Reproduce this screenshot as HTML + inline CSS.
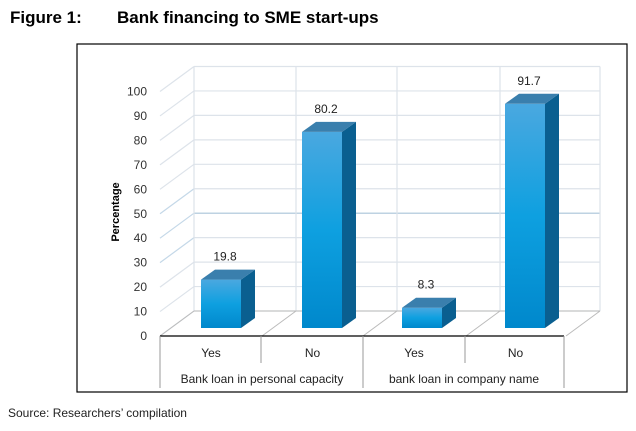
<!DOCTYPE html>
<html><head><meta charset="utf-8"><style>
body{margin:0;background:#fff;width:636px;height:426px;overflow:hidden;font-family:"Liberation Sans",sans-serif}
svg text{font-family:"Liberation Sans",sans-serif}
</style></head><body>
<svg width="636" height="426">
<text x="10" y="23" font-size="17" font-weight="bold">Figure 1:</text>
<text x="117" y="23" font-size="17" font-weight="bold">Bank financing to SME start-ups</text>
<rect x="77" y="44" width="550" height="348" fill="none" stroke="#000" stroke-width="1.2"/>
<g id="grid"></g>
<g id="bars"></g>
<g id="cats"></g>
<text transform="translate(119,212) rotate(-90)" text-anchor="middle" font-size="11" font-weight="bold">Percentage</text>
<text x="8" y="417" font-size="12" fill="#222">Source: Researchers’ compilation</text>
</svg>
<script>
const categories=["Yes","No","Yes","No"];
const groups=["Bank loan in personal capacity","bank loan in company name"];
const values=[19.8,80.2,8.3,91.7];
const ticks=[0,10,20,30,40,50,60,70,80,90,100];
const NS="http://www.w3.org/2000/svg";
function mk(t,a,p){const e=document.createElementNS(NS,t);for(const k in a)e.setAttribute(k,a[k]);p.appendChild(e);return e;}
const U=2.445, frontBase=328, backBase=311, labBase=336;
const yB=v=>backBase-v*U, yF=v=>frontBase-v*U, yL=v=>labBase-v*U;
const g=document.getElementById('grid');
ticks.forEach(t=>{
 let l=mk('line',{x1:194,x2:600,y1:yB(t),y2:yB(t),stroke:t==40?'#a9c4d8':'#dde3ea','stroke-width':1.2},g);
 
 
 let d=mk('line',{x1:160,y1:yB(t)+25,x2:194,y2:yB(t),stroke:(t>=30&&t<=50)?'#c4d8e8':'#dde3ea','stroke-width':1.2},g);
 
 
 let tx=mk('text',{x:147,y:yL(t)+4,'text-anchor':'end','font-size':12,fill:'#333'},g);
 tx.textContent=t;
 
 
});
[194,296,397,500,600].forEach((x,i)=>{
 let l=mk('line',{x1:x,x2:x,y1:yB(100),y2:backBase,stroke:'#dde3ea','stroke-width':1.2},g);
 
 
 let d=mk('line',{x1:x-34,y1:336,x2:x,y2:backBase,stroke:'#bbb','stroke-width':1},g);
 
 
});
const fl=mk('line',{x1:194,y1:backBase,x2:600,y2:backBase,stroke:'#bbb'},g);


const defs=mk('defs',{},document.querySelector('svg'));
defs.innerHTML='<linearGradient id="fg" x1="0" y1="0" x2="0" y2="1"><stop offset="0" stop-color="#4aa8e0"/><stop offset="0.5" stop-color="#0ea0e0"/><stop offset="1" stop-color="#0088cc"/></linearGradient>';
const b=document.getElementById('bars');
const x0=[201,302,402,505], W=40, D=14, H=10;
values.forEach((v,i)=>{
 const x=x0[i], top=yF(v);
 const gg=mk('g',{},b);
 
 
 mk('rect',{x:x,y:top,width:W,height:frontBase-top,fill:'url(#fg)'},gg);
 mk('polygon',{points:`${x+W},${top} ${x+W+D},${top-H} ${x+W+D},${frontBase-H} ${x+W},${frontBase}`,fill:'#0a5f90'},gg);
 mk('polygon',{points:`${x},${top} ${x+D},${top-H} ${x+W+D},${top-H} ${x+W},${top}`,fill:'#3a7fad'},gg);
 const t=mk('text',{x:x+W/2+4,y:top-19,'text-anchor':'middle','font-size':12,fill:'#222'},b);
 t.textContent=v;
 
 
});
const c=document.getElementById('cats');
const ax=mk('line',{x1:160,y1:336,x2:564,y2:336,stroke:'#000','stroke-width':1.2},c);


[[160,388],[261,363],[363,388],[465,363],[564,388]].forEach((p,i)=>{
 const l=mk('line',{x1:p[0],y1:336,x2:p[0],y2:p[1],stroke:'#999'},c);
 
 
});
categories.forEach((k,i)=>{
 const t=mk('text',{x:211+i*101.5,y:357,'text-anchor':'middle','font-size':12,fill:'#222'},c);
 t.textContent=k;
 
 
});
groups.forEach((k,i)=>{
 const t=mk('text',{x:262+i*202,y:383,'text-anchor':'middle','font-size':12,fill:'#222'},c);
 t.textContent=k;
 
 
});
</script>
</body></html>
